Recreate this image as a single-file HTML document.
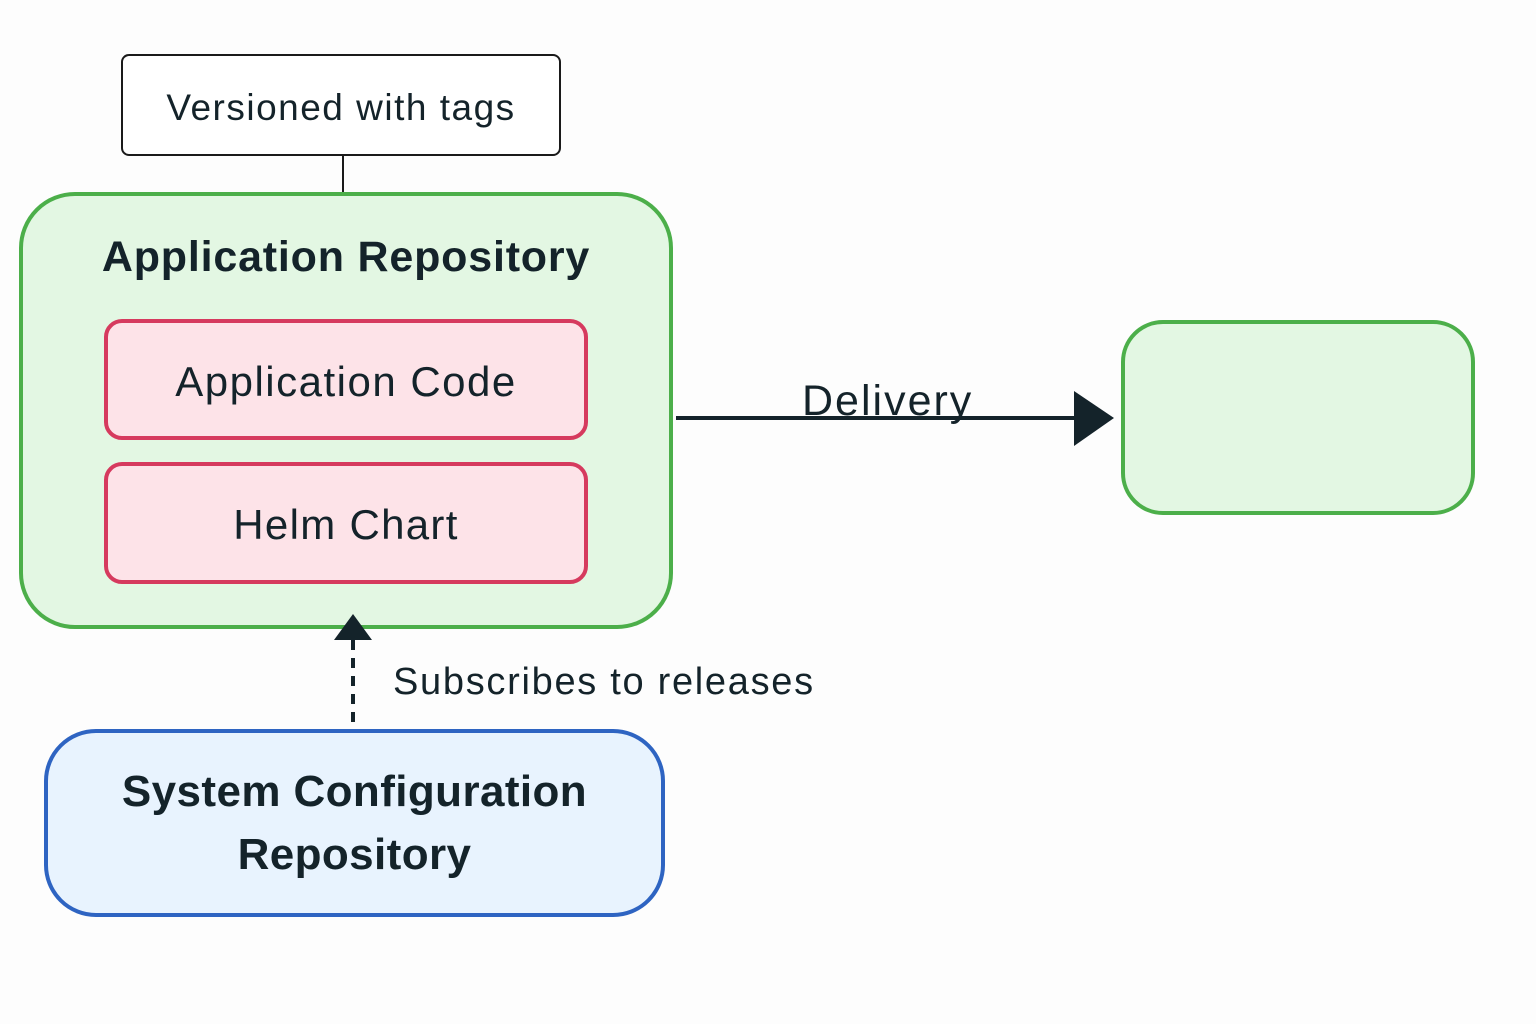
<!DOCTYPE html>
<html><head><meta charset="utf-8"><style>
body{margin:0;width:1536px;height:1024px;background:#fdfdfd;position:relative;overflow:hidden;font-family:"Liberation Sans",sans-serif;color:#14232a}
.b{position:absolute;box-sizing:border-box;display:flex;align-items:center;justify-content:center;text-align:center}
</style></head><body>
<div class="b" style="left:121px;top:54px;width:440px;height:102px;border:2px solid #1a1a1a;border-radius:8px;background:#fff;font-size:37px;letter-spacing:1.5px;padding-top:6px">Versioned with tags</div>
<div style="position:absolute;left:342px;top:156px;width:2px;height:37px;background:#1a1a1a"></div>
<div class="b" style="left:19px;top:192px;width:654px;height:437px;border:4px solid #4caf4a;border-radius:56px;background:#e3f7e3"></div>
<div style="position:absolute;left:19px;width:654px;top:233px;text-align:center;font-weight:bold;font-size:43px;letter-spacing:0.8px">Application Repository</div>
<div class="b" style="left:104px;top:319px;width:484px;height:121px;border:4px solid #d63a5e;border-radius:18px;background:#fde3e8;font-size:42px;letter-spacing:1.5px;padding-top:4px">Application Code</div>
<div class="b" style="left:104px;top:462px;width:484px;height:122px;border:4px solid #d63a5e;border-radius:18px;background:#fde3e8;font-size:42px;letter-spacing:1.3px;padding-top:4px">Helm Chart</div>
<div class="b" style="left:1121px;top:320px;width:354px;height:195px;border:4px solid #4caf4a;border-radius:42px;background:#e3f7e3"></div>
<div class="b" style="left:44px;top:729px;width:621px;height:188px;border:4px solid #2e64c2;border-radius:52px;background:#e8f3fe;font-weight:bold;font-size:44px;line-height:63px;letter-spacing:0.4px">System Configuration<br>Repository</div>
<svg width="1536" height="1024" style="position:absolute;left:0;top:0">
<line x1="676" y1="418" x2="1078" y2="418" stroke="#14232a" stroke-width="4"/>
<polygon points="1074,391 1114,418 1074,446" fill="#14232a"/>
<line x1="353" y1="640" x2="353" y2="727" stroke="#14232a" stroke-width="4" stroke-dasharray="10,8"/>
<polygon points="334,640 353,614 372,640" fill="#14232a"/>
<text x="802" y="415" font-size="43" fill="#14232a" font-family="Liberation Sans" letter-spacing="2">Delivery</text>
<text x="393" y="694" font-size="38" fill="#14232a" font-family="Liberation Sans" letter-spacing="1.7">Subscribes to releases</text>
</svg>
</body></html>
